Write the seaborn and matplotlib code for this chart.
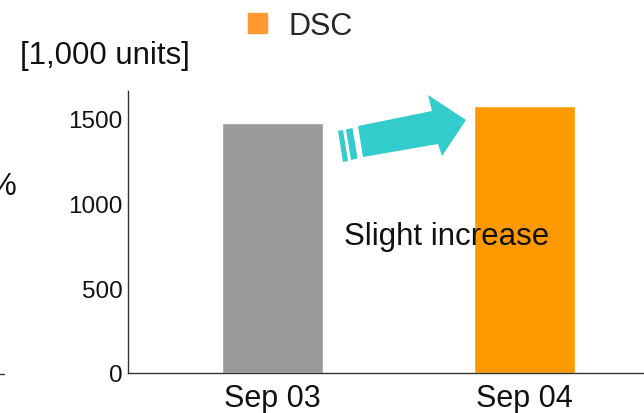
import matplotlib
matplotlib.use("Agg")
import matplotlib.pyplot as plt
from matplotlib.patches import Polygon, Patch
import seaborn as sns
import pandas as pd

# Data
categories = ["Sep 03", "Sep 04"]
values = [1470, 1570]
bar_colors = ["#999999", "#FF9900"]
y_ticks = [0, 500, 1000, 1500]
legend_label = "DSC"
unit_label = "[1,000 units]"
note_label = "Slight increase"

sns.set_theme(style="white")
plt.rcParams["font.family"] = ["Liberation Sans", "DejaVu Sans"]

W, H = 644, 414
fig = plt.figure(figsize=(W / 100, H / 100), dpi=100)
ax = fig.add_axes([128 / W, 1 - 374 / H, 1 - 128 / W, (374 - 92) / H])

df = pd.DataFrame({"month": categories, "units": values})
sns.barplot(data=df, x="month", y="units", hue="month", palette=bar_colors,
            width=0.4, legend=False, saturation=1, ax=ax, zorder=3)

ax.set_xlim(-0.573, 1.474)
ax.set_ylim(0, 1660)
ax.set_yticks(y_ticks)
ax.set_xlabel("")
ax.set_ylabel("")
for side in ("top", "right"):
    ax.spines[side].set_visible(False)
for side in ("left", "bottom"):
    ax.spines[side].set_color("#333333")
    ax.spines[side].set_linewidth(1.0)
    ax.spines[side].set_zorder(4)
ax.tick_params(axis="y", length=0, pad=4, labelsize=17.5, labelcolor="#111111")
ax.tick_params(axis="x", length=0, pad=7.5, labelsize=22, labelcolor="#111111")


def px(x, y):
    return (x / W, 1 - y / H)


# Unit label and clipped text at the left edge
fig.text(*px(105, 64), unit_label, ha="center", va="baseline", fontsize=22.5, color="#111111")
fig.text(*px(17, 195), "%", ha="right", va="baseline", fontsize=22.5, color="#111111")
fig.add_artist(plt.Line2D([0, 4 / W], [1 - 375 / H] * 2, color="#333333", lw=1,
                          transform=fig.transFigure))

# Legend
fig.legend(handles=[Patch(color="#FF9933", label=legend_label)],
           loc="center", bbox_to_anchor=px(300, 27), frameon=False,
           fontsize=22, handlelength=0.62, handleheight=0.62, handletextpad=0.7)

# Arrow with striped tail
cyan = "#33CCCC"
body = [(358, 127), (432, 112), (428, 96), (466, 121), (442, 157), (438, 145), (363, 158)]
stripe2 = [(346, 130.5), (352.5, 129), (357.5, 159.5), (351, 161)]
stripe1 = [(338, 132), (343, 131), (348, 162), (343, 163)]
for shape in (body, stripe2, stripe1):
    fig.add_artist(Polygon([px(x, y) for x, y in shape], closed=True, facecolor=cyan,
                           edgecolor="none", transform=fig.transFigure, zorder=5))

fig.text(*px(344, 245), note_label, ha="left", va="baseline", fontsize=22.5,
         color="#111111", zorder=6)

fig.savefig("out.png", dpi=100)
